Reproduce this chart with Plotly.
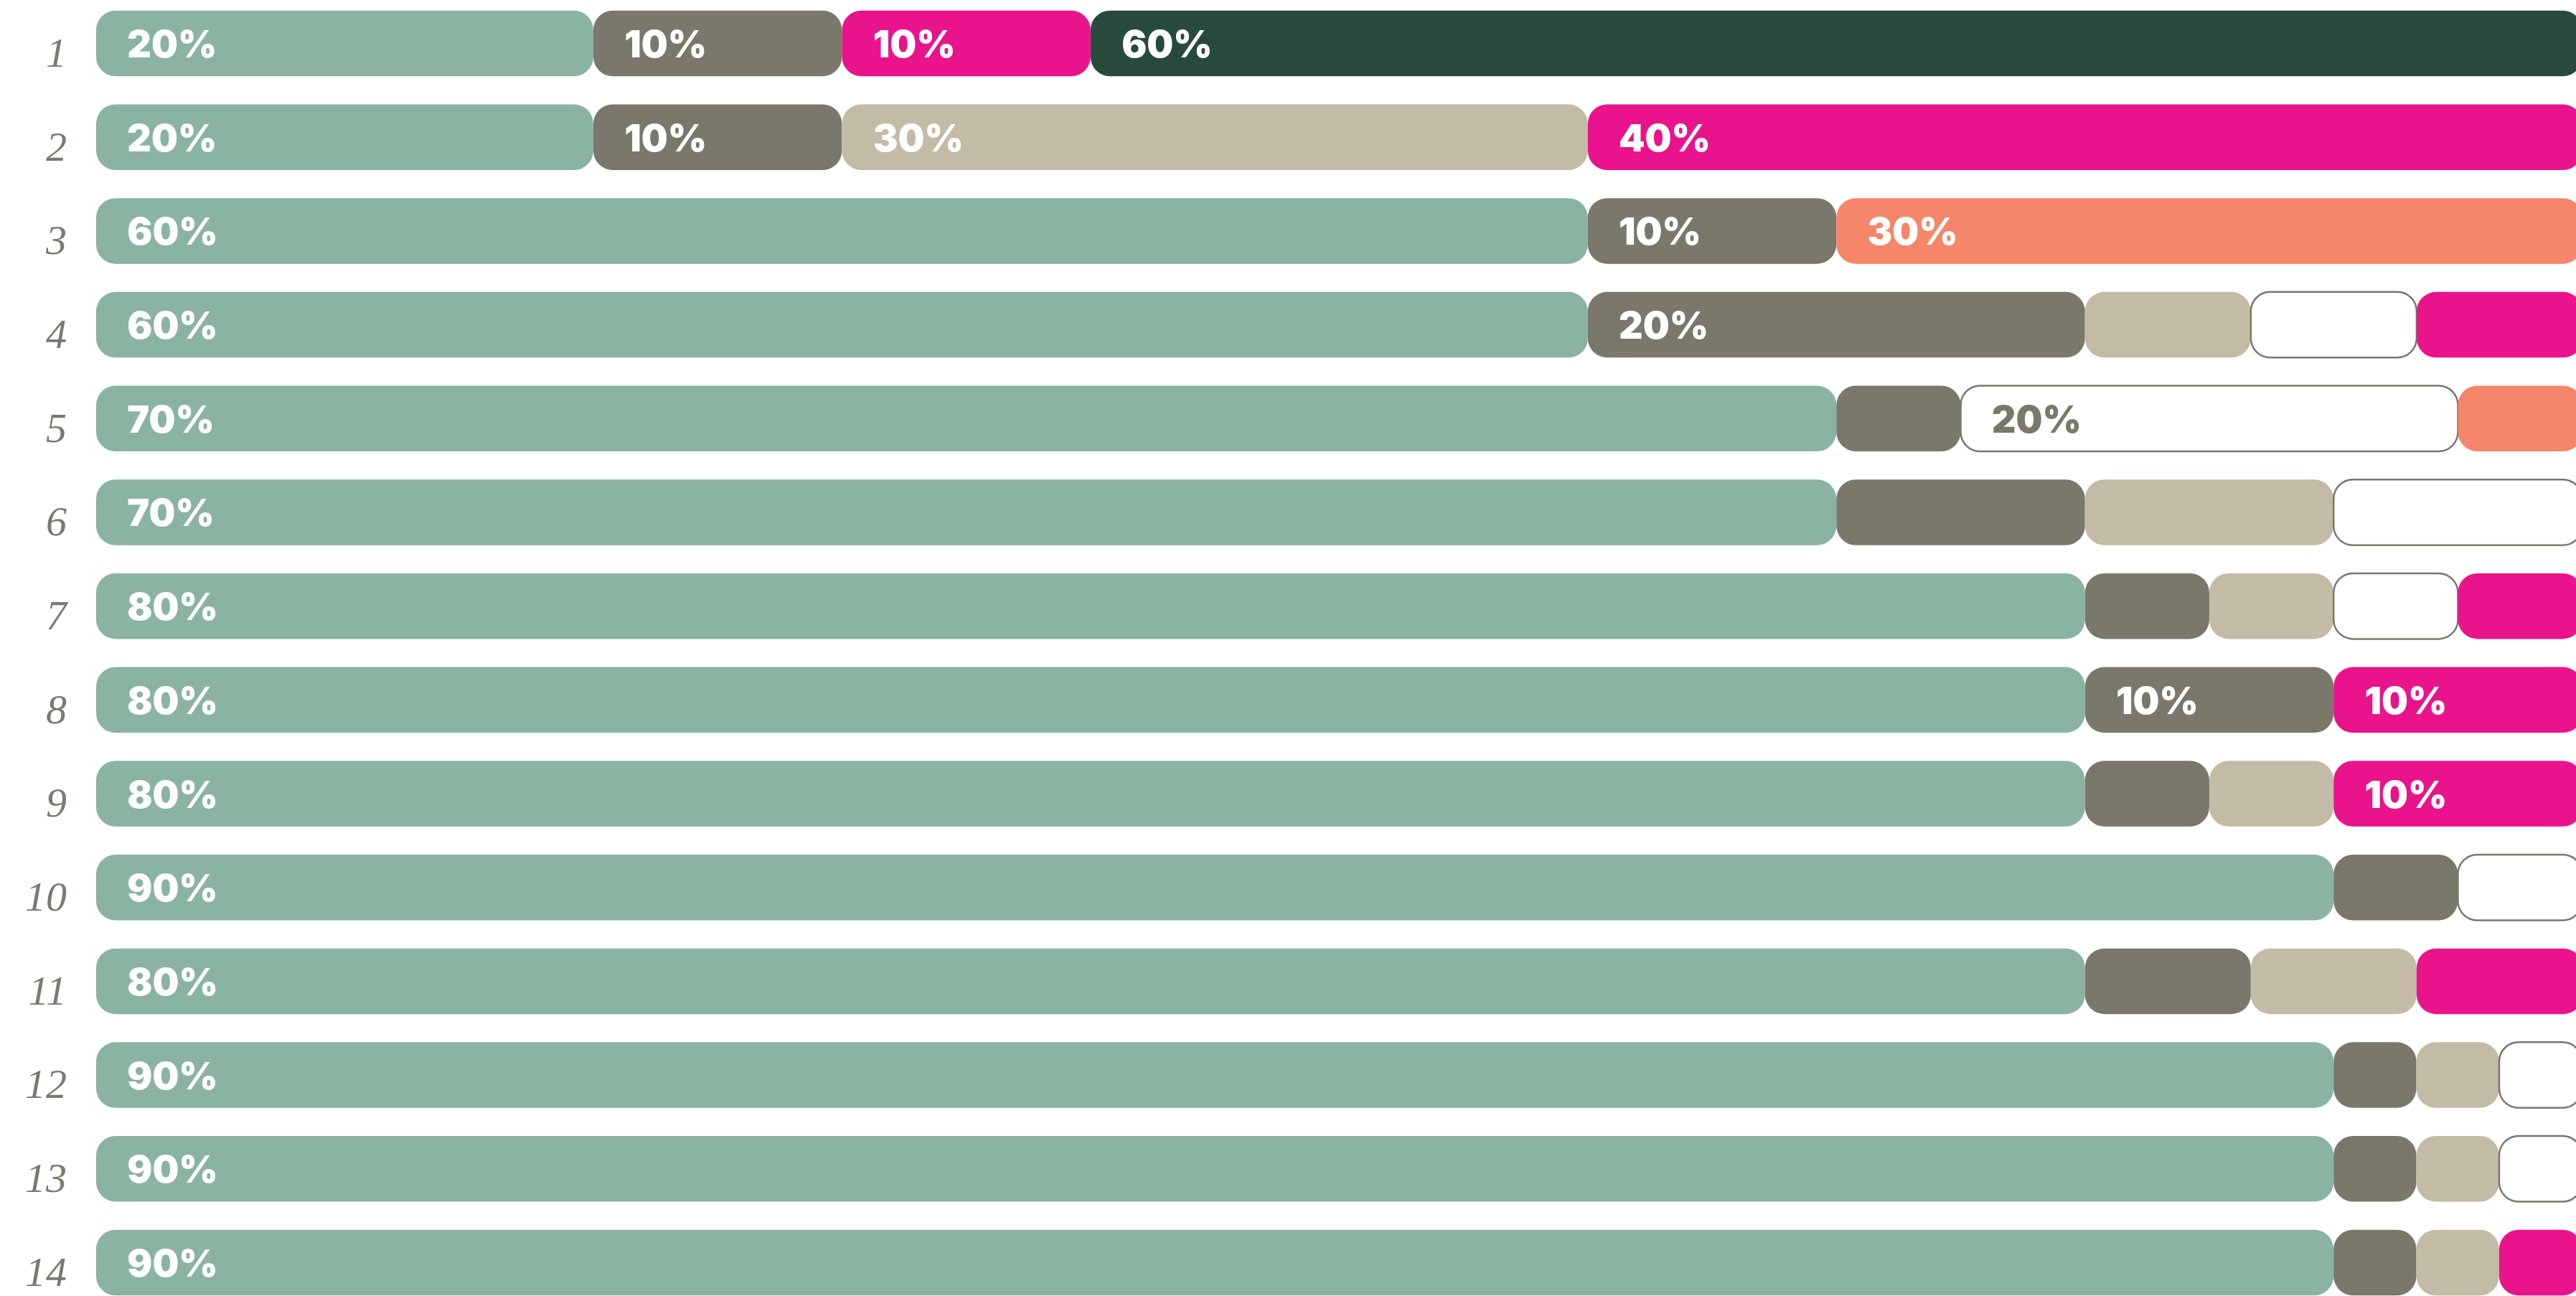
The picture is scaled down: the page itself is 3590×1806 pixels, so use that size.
import plotly.graph_objects as go

# ---------------- data ----------------
rows = list(range(1, 15))
row_labels = [str(r) for r in rows]

series_names = ["green", "gray", "tan", "white", "pink", "orange", "darkgreen"]
series_colors = ["#8AB3A2", "#79786B", "#C3BBA5", "#FFFFFF", "#E9138C", "#F5866A", "#274A3C"]
label_colors = ["#FFFFFF", "#FFFFFF", "#FFFFFF", "#79786B", "#FFFFFF", "#FFFFFF", "#FFFFFF"]

green = [20, 20, 60, 60, 70, 70, 80, 80, 80, 90, 80, 90, 90, 90]
gray = [10, 10, 10, 20, 5, 10, 5, 10, 5, 5, 6.67, 3.33, 3.33, 3.33]
tan = [0, 30, 0, 6.67, 0, 10, 5, 0, 5, 0, 6.67, 3.33, 3.33, 3.33]
white = [0, 0, 0, 6.67, 20, 10, 5, 0, 0, 5, 0, 3.33, 3.33, 0]
pink = [10, 40, 0, 6.67, 0, 0, 5, 10, 10, 0, 6.67, 0, 0, 3.33]
orange = [0, 0, 30, 0, 5, 0, 0, 0, 0, 0, 0, 0, 0, 0]
darkgreen = [60, 0, 0, 0, 0, 0, 0, 0, 0, 0, 0, 0, 0, 0]

green_lbl = ["20%", "20%", "60%", "60%", "70%", "70%", "80%", "80%", "80%", "90%", "80%", "90%", "90%", "90%"]
gray_lbl = ["10%", "10%", "10%", "20%", "", "", "", "10%", "", "", "", "", "", ""]
tan_lbl = ["", "30%", "", "", "", "", "", "", "", "", "", "", "", ""]
white_lbl = ["", "", "", "", "20%", "", "", "", "", "", "", "", "", ""]
pink_lbl = ["10%", "40%", "", "", "", "", "", "10%", "10%", "", "", "", "", ""]
orange_lbl = ["", "", "30%", "", "", "", "", "", "", "", "", "", "", ""]
darkgreen_lbl = ["60%", "", "", "", "", "", "", "", "", "", "", "", "", ""]

series_values = [green, gray, tan, white, pink, orange, darkgreen]
series_labels = [green_lbl, gray_lbl, tan_lbl, white_lbl, pink_lbl, orange_lbl, darkgreen_lbl]

# ---------------- geometry / style ----------------
W, H = 3590, 1806
ML = 134
XMAX = 99.75
Y_TOP, Y_BOT = 0.537, 14.356
BAR_W = 0.70
RADIUS = 27
OUTLINE = 2.5
OUTLINE_COLOR = "#79786B"
TEXT_PAD = 1.25
TEXT_DY = 0.05

fig = go.Figure()

cum = [0.0] * len(rows)
text_x, text_y, text_s, text_c = [], [], [], []
for name, vals, lbls, col, lcol in zip(series_names, series_values, series_labels, series_colors, label_colors):
    ys, starts, lens = [], [], []
    for i, v in enumerate(vals):
        if v > 0:
            ys.append(rows[i])
            starts.append(cum[i])
            lens.append(v)
            if lbls[i]:
                text_x.append(cum[i] + TEXT_PAD)
                text_y.append(rows[i] + TEXT_DY)
                text_s.append(lbls[i])
                text_c.append(lcol)
            cum[i] += v
    if not ys:
        continue
    line = dict(width=OUTLINE, color=OUTLINE_COLOR) if name == "white" else dict(width=0)
    fig.add_trace(go.Bar(
        y=ys, x=lens, base=starts, orientation="h", width=BAR_W, name=name,
        marker=dict(color=col, line=line, cornerradius=RADIUS),
        hoverinfo="skip", showlegend=False,
    ))

fig.add_trace(go.Scatter(
    x=text_x, y=text_y, text=text_s, mode="text", textposition="middle right",
    textfont=dict(family="Inter", size=52, color=text_c, weight=900),
    hoverinfo="skip", showlegend=False, cliponaxis=False,
))

fig.update_layout(
    width=W, height=H,
    margin=dict(l=ML, r=0, t=0, b=0, autoexpand=False),
    paper_bgcolor="white", plot_bgcolor="white",
    barmode="overlay",
    template="none",
    showlegend=False,
    xaxis=dict(range=[0, XMAX], visible=False, fixedrange=True),
    yaxis=dict(
        range=[Y_BOT, Y_TOP], tickmode="array", tickvals=rows, ticktext=row_labels,
        showgrid=False, zeroline=False, showline=False, ticks="",
        tickfont=dict(family="Liberation Serif", size=58, color="#7B7A6D", style="italic"),
        ticklabelstandoff=40, ticklabelshift=-12, automargin=False, fixedrange=True,
    ),
)

fig.write_html(
    "out.html",
    config=dict(displayModeBar=False),
    post_script="document.body.style.margin='0';document.body.style.overflow='hidden';",
)
